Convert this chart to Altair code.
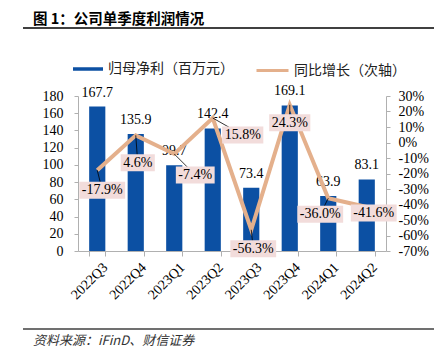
import altair as alt
import pandas as pd

# ---- data ----
quarters = ["2022Q3", "2022Q4", "2023Q1", "2023Q2", "2023Q3", "2023Q4", "2024Q1", "2024Q2"]
net_profit = [167.7, 135.9, 99.7, 142.4, 73.4, 169.1, 63.9, 83.1]
yoy_growth = [-17.9, 4.6, -7.4, 15.8, -56.3, 24.3, -36.0, -41.6]
left_ticks = [0, 20, 40, 60, 80, 100, 120, 140, 160, 180]
right_ticks = [-70, -60, -50, -40, -30, -20, -10, 0, 10, 20, 30]

title_text = "图 1：公司单季度利润情况"
source_text = "资料来源：iFinD、财信证券"
bar_name = "归母净利（百万元）"
line_name = "同比增长（次轴）"

# ---- layout / style ----
label_offsets = [(5, 20), (2, 27.5), (21, 21), (30, 17), (2, 19), (0, 18), (-8, 16), (7, 6)]
BLUE = "#0C50A3"
TAN = "#E4B08C"
PINK = "#F2DCDB"
AXIS = "#B0B0B0"
SERIF = "Liberation Serif"
CJK = "Noto Sans CJK SC"

df = pd.DataFrame({"q": quarters, "profit": net_profit, "yoy": yoy_growth})
df["idx"] = list(range(len(quarters)))
df["yoy_label"] = [f"{v:.1f}%" for v in yoy_growth]
df["bar_series"] = bar_name
df["line_series"] = line_name

X = alt.X(
    "q:N", sort=quarters,
    scale=alt.Scale(paddingInner=0.58, paddingOuter=0.29),
    axis=alt.Axis(title=None, labelAngle=-45, labelAlign="right", labelBaseline="top",
                  labelFont=SERIF, labelFontSize=14, labelColor="black",
                  tickBand="extent", tickSize=5, tickColor=AXIS, domainColor=AXIS,
                  labelPadding=4, labelOffset=3),
)
YL = alt.Y(
    "profit:Q", scale=alt.Scale(domain=[0, 180], nice=False, zero=True),
    axis=alt.Axis(title=None, values=left_ticks, grid=False, labelFont=SERIF, labelFontSize=14,
                  labelColor="black", tickSize=4, tickColor=AXIS, domainColor=AXIS, labelPadding=11),
)
YR = alt.Y(
    "yoy:Q", scale=alt.Scale(domain=[-70, 30], nice=False, zero=False),
    axis=alt.Axis(title=None, orient="right", values=right_ticks, grid=False,
                  labelExpr="datum.value + '%'", labelFont=SERIF, labelFontSize=14,
                  labelColor="black", tickSize=4, tickColor=AXIS, domainColor=AXIS, labelPadding=8),
)

base = alt.Chart(df)

bars = base.mark_bar().encode(
    x=X, y=YL,
    color=alt.Color("bar_series:N", scale=alt.Scale(domain=[bar_name], range=[BLUE]),
                    legend=alt.Legend(title=None, orient="none", legendX=-6, legendY=-43,
                                      symbolType="M-1,-0.117H1V0.117H-1Z", symbolSize=900,
                                      symbolOpacity=1, labelFont=CJK, labelFontSize=14,
                                      labelColor="#222", labelOffset=4, padding=0)),
)
bar_labels = base.mark_text(baseline="bottom", dy=-7, font=SERIF, fontSize=14, color="black").encode(
    x=X, y=YL, text=alt.Text("profit:Q", format=".1f")
)

one = pd.DataFrame({"t": [title_text], "s": [source_text]})
title = alt.Chart(one).mark_text(align="left", baseline="middle", font=CJK, fontSize=14.5,
                                 fontWeight="bold", color="black").encode(
    x=alt.value(-45), y=alt.value(-76), text="t:N")
top_rule = alt.Chart(one).mark_rule(color="#404040", strokeWidth=2).encode(
    x=alt.value(-55), x2=alt.value(356), y=alt.value(-68))
bottom_rule = alt.Chart(one).mark_rule(color="#404040", strokeWidth=1.5).encode(
    x=alt.value(-55), x2=alt.value(356), y=alt.value(233))
source = alt.Chart(one).mark_text(align="left", baseline="middle", font=CJK, fontSize=13,
                                  fontStyle="italic", color="#333333").encode(
    x=alt.value(-45), y=alt.value(245), text="s:N")

left = alt.layer(bars, bar_labels, title, top_rule, bottom_rule, source)

line = base.mark_line(strokeWidth=4).encode(
    x=X, y=YR,
    stroke=alt.Stroke("line_series:N", scale=alt.Scale(domain=[line_name], range=[TAN]),
                      legend=alt.Legend(title=None, orient="none", legendX=177, legendY=-43,
                                        symbolType="stroke", symbolSize=1024, symbolStrokeWidth=3,
                                        labelFont=CJK, labelFontSize=14, labelColor="#222",
                                        labelOffset=4, padding=0)),
)

char_w = {"-": 0.333, ".": 0.25, "%": 0.833}
leaders, boxes, texts = [], [], []
for i, (dx, dy) in enumerate(label_offsets):
    lab = df["yoy_label"][i]
    w = sum(char_w.get(c, 0.5) for c in lab) * 14 + 5
    h = 17
    sub = base.transform_filter(alt.datum.idx == i)
    leaders.append(sub.mark_rule(color="black", strokeWidth=0.8, x2Offset=dx, y2Offset=dy).encode(
        x=X, x2="q:N", y=YR, y2="yoy:Q"))
    boxes.append(sub.mark_point(shape=f"M-1,{-h / w:.4f}H1V{h / w:.4f}H-1Z", size=w * w,
                                filled=True, fill=PINK, opacity=1, strokeWidth=0,
                                xOffset=dx, yOffset=dy).encode(x=X, y=YR))
    texts.append(sub.mark_text(font=SERIF, fontSize=14, color="black", dx=dx, dy=dy,
                               baseline="middle", align="center").encode(
        x=X, y=YR, text="yoy_label:N"))

right = alt.layer(line, *leaders, *boxes, *texts)

chart = alt.layer(left, right).resolve_scale(y="independent").properties(
    width=308, height=155,
    autosize=alt.AutoSizeParams(type="none"),
    padding={"left": 70, "top": 88, "right": 48, "bottom": 104},
).configure_view(stroke=None).configure_axis(grid=False)

chart.save("out.html", embed_options={"renderer": "svg", "actions": False})
